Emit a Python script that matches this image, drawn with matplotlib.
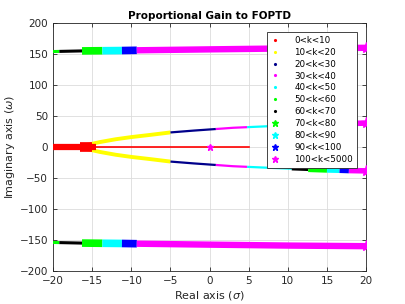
import matplotlib
matplotlib.use("Agg")
import matplotlib.pyplot as plt
from matplotlib.lines import Line2D
import numpy as np

# ---------------- data ----------------
labels = ["0<k<10", "10<k<20", "20<k<30", "30<k<40", "40<k<50", "50<k<60",
          "60<k<70", "70<k<80", "80<k<90", "90<k<100", "100<k<5000"]
colors = ["#ff0000", "#ffff00", "#00008b", "#ff00ff", "#00ffff", "#00ff00",
          "#000000", "#00ff00", "#00ffff", "#0000ff", "#ff00ff"]
markers = [".", ".", ".", ".", ".", ".", ".", "*", "*", "*", "*"]

# real-axis branch (0<k<10)
real_thick_x = [-20, -14.5]
real_flare_x = [-16.6, -15.0]
real_thin_x = [-14.5, 5]

# complex middle branch (upper half; lower is mirror)
mid_yellow_x = [-15.8, -14, -12, -10, -7.6, -5]
mid_yellow_y = [3, 8, 12.5, 16, 19.5, 23.5]
mid_blue_x = [-5, -2, 0.8]
mid_blue_y = [23.5, 26.5, 29]
mid_mag_x = [0.8, 3, 4.8]
mid_mag_y = [29, 31, 32]
mid_cyan_x = [4.8, 7.5, 10.5]
mid_cyan_y = [32, 33.5, 35]
mid_black_x = [10.5, 12.6]
mid_black_y = [35, 36]
mid_green_x = [12.6, 15]
mid_green_y = [36, 37]
mid_cyan2_x = [15, 16.6]
mid_cyan2_y = [37, 37.5]
mid_blue2_x = [16.6, 17.8]
mid_blue2_y = [37.5, 38]
mid_mag2_x = [17.8, 20]
mid_mag2_y = [38, 38.5]

# high-frequency branch (upper half; lower is mirror)
hf_green_x = [-20, -19.2]
hf_green_y = [154, 154.2]
hf_black_x = [-19.2, -16.3]
hf_black_y = [154.2, 155]
hf_green2_x = [-16.3, -13.7]
hf_green2_y = [155, 155.3]
hf_cyan_x = [-13.7, -11.2]
hf_cyan_y = [155.3, 155.6]
hf_blue_x = [-11.2, -9.3]
hf_blue_y = [155.6, 156]
hf_mag_x = [-9.3, 0, 10, 20]
hf_mag_y = [156, 157.5, 159, 160]

zero_x = [0]
zero_y = [0]

# ---------------- plot ----------------
fig = plt.figure(figsize=(4.05, 3.04), dpi=100)
ax = fig.add_axes([0.131, 0.1086, 0.773, 0.8157])

def seg(x, y, ci, lw, mirror=True):
    ax.plot(x, y, color=colors[ci], lw=lw, solid_capstyle="butt", zorder=3)
    if mirror:
        ax.plot(x, [-v for v in y], color=colors[ci], lw=lw, solid_capstyle="butt", zorder=3)

# real axis
ax.plot(real_thick_x, [0, 0], color=colors[0], lw=4.5, solid_capstyle="butt", zorder=4)
ax.plot(real_flare_x, [0, 0], color=colors[0], lw=7, solid_capstyle="butt", zorder=4)
ax.plot(real_thin_x, [0, 0], color=colors[0], lw=1.2, zorder=4)

# middle branches
seg(mid_yellow_x, mid_yellow_y, 1, 2.8)
seg(mid_blue_x, mid_blue_y, 2, 1.6)
seg(mid_mag_x, mid_mag_y, 3, 1.6)
seg(mid_cyan_x, mid_cyan_y, 4, 1.6)
seg(mid_black_x, mid_black_y, 6, 2.5)
seg(mid_green_x, mid_green_y, 7, 4)
seg(mid_cyan2_x, mid_cyan2_y, 8, 4)
seg(mid_blue2_x, mid_blue2_y, 9, 4)
seg(mid_mag2_x, mid_mag2_y, 10, 4)
for s in (1, -1):
    ax.plot([mid_mag2_x[-1]], [s * mid_mag2_y[-1]], marker="*", ms=8,
            color=colors[10], ls="none", zorder=5)

# high-frequency branches
seg(hf_green_x, hf_green_y, 5, 2.2)
seg(hf_black_x, hf_black_y, 6, 2.2)
seg(hf_green2_x, hf_green2_y, 7, 5.5)
seg(hf_cyan_x, hf_cyan_y, 8, 5.5)
seg(hf_blue_x, hf_blue_y, 9, 5.5)
seg(hf_mag_x, hf_mag_y, 10, 4.6)
for s in (1, -1):
    ax.plot([hf_mag_x[-1]], [s * hf_mag_y[-1]], marker="*", ms=8,
            color=colors[10], ls="none", zorder=5)

ax.plot(zero_x, zero_y, marker="*", ms=5, color=colors[10], ls="none", zorder=5)

ax.set_xlim(-20, 20)
ax.set_ylim(-200, 200)
ax.set_xticks(np.arange(-20, 21, 5))
ax.set_yticks(np.arange(-200, 201, 50))
ax.grid(True, color="#dcdcdc", lw=0.6)
ax.set_axisbelow(True)
ax.tick_params(direction="in", top=True, right=True, labelsize=7.5,
               colors="#262626", length=3, width=0.6)
for sp in ax.spines.values():
    sp.set_color("#262626")
    sp.set_linewidth(0.6)

ax.set_title("Proportional Gain to FOPTD", fontsize=7.5, fontweight="bold", pad=3)
ax.set_xlabel(r"Real axis ($\sigma$)", fontsize=8, color="#262626", labelpad=2)
ax.set_ylabel(r"Imaginary axis ($\omega$)", fontsize=8, color="#262626", labelpad=2)

handles = []
for lab, c, m in zip(labels, colors, markers):
    handles.append(Line2D([], [], color=c, marker=m, ls="none",
                          ms=2.5 if m == "." else 5, label=lab))
leg = ax.legend(handles=handles, loc="upper right", bbox_to_anchor=(0.971, 0.964),
                fontsize=6.3, frameon=True, fancybox=False, framealpha=1,
                edgecolor="#262626", borderpad=0.45, labelspacing=0.33,
                handletextpad=1.7, handlelength=1.0, borderaxespad=0)
leg.get_frame().set_linewidth(0.6)
leg.set_zorder(10)

fig.savefig("out.png", dpi=100)
